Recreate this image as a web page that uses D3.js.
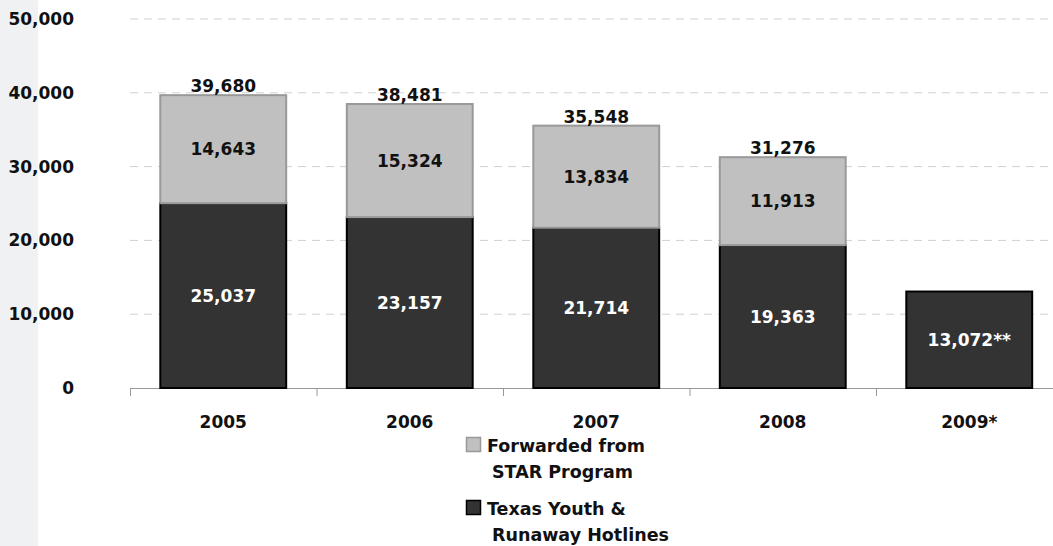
<!DOCTYPE html>
<html><head><meta charset="utf-8">
<script src="https://cdn.jsdelivr.net/npm/d3@7"></script>
<style>body{margin:0;background:#fff;}svg{display:block;font-family:"DejaVu Sans",sans-serif;font-weight:bold;}</style>
</head><body>
<script>
const categories = ["2005","2006","2007","2008","2009*"];
const hotlines = [25037, 23157, 21714, 19363, 13072];
const forwarded = [14643, 15324, 13834, 11913, null];
const hotlineLabels = ["25,037","23,157","21,714","19,363","13,072**"];
const yTicks = [0, 10000, 20000, 30000, 40000, 50000];
const seriesNames = [["Forwarded from","STAR Program"],["Texas Youth &","Runaway Hotlines"]];

const W = 1053, H = 546;
const svg = d3.select("body").append("svg").attr("width", W).attr("height", H);
svg.append("rect").attr("x",0).attr("y",0).attr("width",38).attr("height",H).attr("fill","#f0f1f3");

const x = d3.scaleBand().domain(categories).range([130, 130 + 186.5*5]).paddingInner(0.325).paddingOuter(0.1625);
const y = d3.scaleLinear().domain([0, 50000]).range([388, 19]);

// grid
svg.append("g").selectAll("line").data(yTicks.filter(d=>d>0)).join("line")
  .attr("x1",130).attr("x2",W).attr("y1",d=>y(d)).attr("y2",d=>y(d))
  .attr("stroke","#d0d0d0").attr("stroke-width",1).attr("stroke-dasharray","8,6");

// y labels
const yAxis = d3.axisLeft(y).tickValues(yTicks).tickSize(0).tickPadding(0).tickFormat(d3.format(","));
const ya = svg.append("g").attr("transform","translate(74,0)").call(yAxis);
ya.select(".domain").remove();
ya.selectAll("text").attr("font-size",17).attr("font-weight","bold").attr("fill","#111").attr("font-family","DejaVu Sans");

// x axis
const step = 186.5;
svg.append("line").attr("x1",130).attr("x2",W).attr("y1",388.5).attr("y2",388.5).attr("stroke","#999").attr("stroke-width",1);
svg.append("g").selectAll("line").data(d3.range(0,6)).join("line")
  .attr("x1",i=>130.5+i*step).attr("x2",i=>130.5+i*step).attr("y1",388).attr("y2",396)
  .attr("stroke","#999");
svg.append("g").selectAll("text").data(categories).join("text")
  .attr("x",d=>x(d)+x.bandwidth()/2).attr("y",428).attr("text-anchor","middle")
  .attr("font-size",17).attr("fill","#111").text(d=>d);

// bars
const g = svg.append("g");
categories.forEach((c,i)=>{
  const bx = x(c), bw = x.bandwidth();
  g.append("rect").attr("x",bx).attr("y",y(hotlines[i])).attr("width",bw).attr("height",y(0)-y(hotlines[i]))
    .attr("fill","#333").attr("stroke","#000").attr("stroke-width",2);
  g.append("text").attr("x",bx+bw/2).attr("y",(y(0)+y(hotlines[i]))/2+6).attr("text-anchor","middle")
    .attr("font-size",17).attr("fill","#fff").text(hotlineLabels[i]);
  if (forwarded[i] != null) {
    const top = hotlines[i] + forwarded[i];
    g.append("rect").attr("x",bx).attr("y",y(top)).attr("width",bw).attr("height",y(hotlines[i])-y(top))
      .attr("fill","#c0c0c0").attr("stroke","#999").attr("stroke-width",2);
    g.append("text").attr("x",bx+bw/2).attr("y",(y(top)+y(hotlines[i]))/2+6).attr("text-anchor","middle")
      .attr("font-size",17).attr("fill","#111").text(d3.format(",")(forwarded[i]));
    g.append("text").attr("x",bx+bw/2).attr("y",y(top)-3).attr("text-anchor","middle")
      .attr("font-size",17).attr("fill","#111").text(d3.format(",")(top));
  }
});

// legend
const leg = [{fill:"#c0c0c0",stroke:"#999",y:437},{fill:"#333",stroke:"#000",y:500}];
leg.forEach((l,i)=>{
  svg.append("rect").attr("x",466.5).attr("y",l.y+0.5).attr("width",14).attr("height",14)
    .attr("fill",l.fill).attr("stroke",l.stroke).attr("stroke-width",1.5);
  svg.append("text").attr("x",487).attr("y",l.y+15).attr("font-size",17.5).attr("fill","#111").text(seriesNames[i][0]);
  svg.append("text").attr("x",492).attr("y",l.y+41).attr("font-size",17.5).attr("fill","#111").text(seriesNames[i][1]);
});
</script>
</body></html>
